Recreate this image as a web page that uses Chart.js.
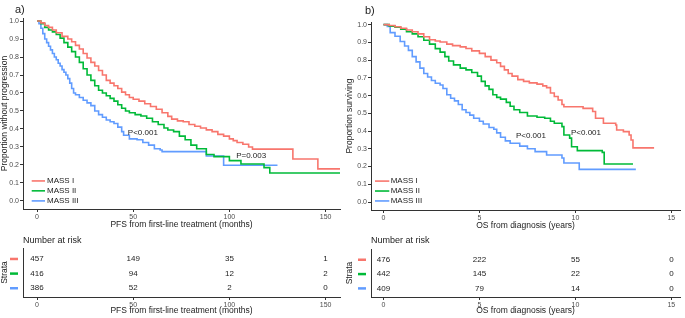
<!DOCTYPE html>
<html>
<head>
<meta charset="utf-8">
<script src="https://cdn.jsdelivr.net/npm/chart.js@4.4.1/dist/chart.umd.min.js"></script>
<style>
  html, body { margin: 0; padding: 0; background: #fff; }
  body { width: 685px; height: 318px; position: relative; overflow: hidden; }
  canvas { position: absolute; }
</style>
</head>
<body>
<canvas id="kmA" width="345" height="232" style="left:0;top:0;width:345px;height:232px"></canvas>
<canvas id="kmB" width="340" height="232" style="left:345px;top:0;width:340px;height:232px"></canvas>
<canvas id="riskA" width="345" height="86" style="left:0;top:232px;width:345px;height:86px"></canvas>
<canvas id="riskB" width="340" height="86" style="left:345px;top:232px;width:340px;height:86px"></canvas>
<script>
// ---------------- DATA ----------------
const groupNames = ['MASS I', 'MASS II', 'MASS III'];
const groupColors = ['#F8766D', '#00BA38', '#619CFF'];

// Panel a) PFS from first-line treatment (months): [time, survival]
const pfsMassI = [[0,1],[2,0.99],[4,0.975],[6,0.965],[8,0.95],[10,0.935],[13,0.915],[16,0.9],[18,0.885],[20,0.865],[22,0.845],[24,0.82],[26,0.795],[28,0.77],[30,0.75],[32,0.725],[34,0.7],[36,0.67],[38,0.655],[40,0.64],[42,0.625],[44,0.605],[46,0.59],[48,0.575],[50,0.565],[53,0.555],[56,0.54],[59,0.525],[62,0.51],[65,0.49],[68,0.47],[70,0.455],[73,0.445],[76,0.44],[79,0.425],[82,0.415],[85,0.405],[88,0.395],[91,0.385],[94,0.37],[97,0.36],[100,0.345],[102,0.335],[104,0.325],[107,0.315],[110,0.3],[112,0.288],[133,0.233],[146,0.178],[158,0.178]];
const pfsMassII = [[0,1],[2,0.985],[4,0.965],[6,0.95],[8,0.94],[10,0.925],[12,0.905],[14,0.88],[16,0.855],[18,0.83],[20,0.8],[22,0.77],[24,0.735],[26,0.7],[28,0.67],[30,0.64],[32,0.615],[34,0.6],[36,0.585],[38,0.57],[40,0.555],[42,0.535],[44,0.515],[46,0.5],[48,0.49],[51,0.48],[54,0.472],[57,0.46],[60,0.44],[63,0.425],[66,0.405],[68,0.394],[71,0.385],[74,0.36],[77,0.34],[80,0.31],[83,0.29],[88,0.258],[92,0.246],[100,0.224],[106,0.205],[118,0.185],[121,0.155],[158,0.155]];
const pfsMassIII = [[0,1],[1,0.985],[2,0.96],[3,0.93],[4,0.9],[5,0.88],[6,0.86],[7,0.84],[8,0.82],[9,0.8],[10,0.785],[11,0.765],[12,0.75],[13,0.73],[14,0.715],[15,0.7],[16,0.68],[17,0.655],[18,0.625],[19,0.6],[20,0.59],[22,0.575],[24,0.56],[26,0.545],[28,0.53],[30,0.5],[32,0.48],[34,0.465],[36,0.45],[38,0.44],[40,0.43],[42,0.41],[44,0.385],[45,0.365],[48,0.345],[52,0.34],[55,0.325],[58,0.31],[61,0.29],[64,0.283],[65,0.274],[88,0.25],[97,0.198],[125,0.198]];

// Panel b) OS from diagnosis (years): [time, survival]
const osMassI = [[0,1],[0.3,0.995],[0.6,0.988],[0.9,0.98],[1.2,0.97],[1.5,0.96],[1.8,0.948],[2.1,0.932],[2.4,0.915],[2.7,0.908],[2.95,0.902],[3.3,0.89],[3.6,0.882],[4,0.875],[4.3,0.866],[4.6,0.852],[5.0,0.838],[5.3,0.82],[5.6,0.8],[5.9,0.785],[6.1,0.765],[6.3,0.745],[6.5,0.725],[6.7,0.71],[7.0,0.69],[7.3,0.68],[7.6,0.672],[8.0,0.665],[8.3,0.655],[8.5,0.645],[8.7,0.615],[8.9,0.595],[9.1,0.575],[9.3,0.55],[9.4,0.537],[10.4,0.528],[10.9,0.51],[11.05,0.472],[11.46,0.444],[12.1,0.434],[12.15,0.406],[12.5,0.397],[12.8,0.378],[12.9,0.35],[13.0,0.305],[14.1,0.305]];
const osMassII = [[0,1],[0.3,0.992],[0.6,0.985],[0.9,0.975],[1.2,0.96],[1.5,0.948],[1.8,0.932],[2.1,0.912],[2.4,0.89],[2.7,0.865],[2.95,0.845],[3.2,0.82],[3.4,0.795],[3.65,0.773],[4.0,0.755],[4.3,0.745],[4.6,0.73],[4.9,0.71],[5.1,0.68],[5.3,0.655],[5.5,0.635],[5.7,0.605],[5.9,0.59],[6.1,0.58],[6.4,0.562],[6.6,0.54],[6.8,0.52],[7.1,0.505],[7.5,0.485],[8.0,0.478],[8.4,0.472],[8.7,0.455],[8.9,0.444],[9.3,0.425],[9.4,0.378],[9.7,0.36],[9.8,0.312],[10.1,0.29],[11.4,0.28],[11.5,0.214],[13,0.214]];
const osMassIII = [[0,1],[0.2,0.99],[0.35,0.955],[0.6,0.935],[0.87,0.905],[1.1,0.88],[1.3,0.855],[1.5,0.82],[1.7,0.79],[1.9,0.755],[2.1,0.725],[2.3,0.705],[2.5,0.685],[2.7,0.67],[2.95,0.66],[3.1,0.64],[3.3,0.605],[3.5,0.585],[3.7,0.57],[3.9,0.55],[4.1,0.52],[4.3,0.505],[4.5,0.49],[4.7,0.472],[5.0,0.455],[5.2,0.44],[5.5,0.42],[5.75,0.41],[5.9,0.39],[6.1,0.365],[6.35,0.345],[6.6,0.331],[7.1,0.315],[7.5,0.3],[7.9,0.284],[8.5,0.265],[9.3,0.248],[9.4,0.22],[10.2,0.184],[13.15,0.184]];

// Number at risk tables
const pfsRiskTimes = [0, 50, 100, 150];
const pfsRiskI = [457, 149, 35, 1];
const pfsRiskII = [416, 94, 12, 2];
const pfsRiskIII = [386, 52, 2, 0];
const osRiskTimes = [0, 5, 10, 15];
const osRiskI = [476, 222, 55, 0];
const osRiskII = [442, 145, 22, 0];
const osRiskIII = [409, 79, 14, 0];

// Tick labels
const yTicks = [0, 0.1, 0.2, 0.3, 0.4, 0.5, 0.6, 0.7, 0.8, 0.9, 1.0];
const pfsXTicks = [0, 50, 100, 150];
const osXTicks = [0, 5, 10, 15];

// Annotations
const pfsPValues = [{text: 'P<0.001', x: 47.2, y: 0.38}, {text: 'P=0.003', x: 103.5, y: 0.252}];
const osPValues = [{text: 'P<0.001', x: 6.9, y: 0.372}, {text: 'P<0.001', x: 9.77, y: 0.393}];

// ---------------- STYLE / HELPERS ----------------
const FONT = '"Liberation Sans", Arial, sans-serif';
const axisColor = '#333333';
const tickColor = '#4d4d4d';
const textColor = '#222222';

const annotPlugin = {
  id: 'annot',
  afterDatasetsDraw(chart, args, opts) {
    const ctx = chart.ctx;
    const xs = chart.scales.x, ys = chart.scales.y, ca = chart.chartArea;
    ctx.save();
    if (opts.panel) {
      ctx.font = '11px ' + FONT;
      ctx.fillStyle = textColor;
      ctx.textAlign = 'left';
      ctx.textBaseline = 'middle';
      ctx.fillText(opts.panel.text, opts.panel.x, opts.panel.y);
    }
    (opts.pvalues || []).forEach(p => {
      ctx.font = '8px ' + FONT;
      ctx.fillStyle = textColor;
      ctx.textAlign = 'left';
      ctx.textBaseline = 'middle';
      ctx.fillText(p.text, xs.getPixelForValue(p.x), ys.getPixelForValue(p.y));
    });
    if (opts.legend) {
      const L = opts.legend;
      chart.data.datasets.forEach((ds, i) => {
        const y = ys.getPixelForValue(L.rows[i]);
        ctx.strokeStyle = ds.borderColor;
        ctx.lineWidth = 1.6;
        ctx.beginPath();
        ctx.moveTo(ca.left + L.x0, y);
        ctx.lineTo(ca.left + L.x1, y);
        ctx.stroke();
        ctx.font = '8px ' + FONT;
        ctx.fillStyle = textColor;
        ctx.textAlign = 'left';
        ctx.textBaseline = 'middle';
        ctx.fillText(ds.label, ca.left + L.tx, y);
      });
    }
    if (opts.risk) {
      ctx.font = '9px ' + FONT;
      ctx.fillStyle = textColor;
      ctx.textAlign = 'left';
      ctx.textBaseline = 'middle';
      ctx.fillText('Number at risk', ca.left, opts.risk.headerY);
      chart.data.datasets.forEach((ds, i) => {
        const meta = chart.getDatasetMeta(i);
        ctx.font = '8px ' + FONT;
        ctx.fillStyle = textColor;
        ctx.textAlign = 'center';
        ctx.textBaseline = 'middle';
        meta.data.forEach((el, j) => {
          ctx.fillText(String(ds.data[j].n), el.x, el.y);
        });
        const y = ys.getPixelForValue(ds.data[0].y);
        ctx.strokeStyle = ds.keyColor;
        ctx.lineWidth = 2.5;
        ctx.beginPath();
        ctx.moveTo(ca.left - 13, y);
        ctx.lineTo(ca.left - 5, y);
        ctx.stroke();
      });
    }
    ctx.restore();
  }
};

function xScale(min, max, ticks, title, h) {
  return {
    type: 'linear', min, max,
    afterBuildTicks: s => { s.ticks = ticks.map(v => ({value: v})); },
    afterFit: s => { s.height = h; },
    grid: {drawOnChartArea: false, drawTicks: true, tickLength: 3, color: axisColor},
    border: {display: true, color: axisColor, width: 1},
    ticks: {font: {size: 7, family: FONT}, color: tickColor, padding: 1, maxRotation: 0, autoSkip: false,
            callback: v => String(v)},
    title: {display: true, text: title, font: {size: 8.5, family: FONT}, color: textColor, padding: 0}
  };
}

function kmChart(id, series, xMin, xMax, xTicks, xTitle, yTitle, yMax, yW, pad, legend, pvals, panel) {
  new Chart(document.getElementById(id), {
    type: 'scatter',
    data: {
      datasets: series.map((s, i) => ({
        label: groupNames[i],
        data: s.map(p => ({x: p[0], y: p[1]})),
        showLine: true, stepped: 'before',
        borderColor: groupColors[i], backgroundColor: groupColors[i],
        borderWidth: 1.6, pointRadius: 0, pointHoverRadius: 0, fill: false
      }))
    },
    options: {
      responsive: false, animation: false, devicePixelRatio: 1,
      layout: {padding: pad},
      plugins: {legend: {display: false}, tooltip: {enabled: false},
                annot: {legend, pvalues: pvals, panel}},
      scales: {
        x: xScale(xMin, xMax, xTicks, xTitle, 21),
        y: {
          type: 'linear', min: -0.045, max: yMax,
          afterBuildTicks: s => { s.ticks = yTicks.map(v => ({value: v})); },
          afterFit: s => { s.width = yW; },
          grid: {drawOnChartArea: false, drawTicks: true, tickLength: 3, color: axisColor},
          border: {display: true, color: axisColor, width: 1},
          ticks: {font: {size: 7, family: FONT}, color: tickColor, padding: 1, autoSkip: false,
                  callback: v => Number(v).toFixed(1)},
          title: {display: true, text: yTitle, font: {size: 8.5, family: FONT}, color: textColor, padding: 0}
        }
      }
    },
    plugins: [annotPlugin]
  });
}

function riskChart(id, times, rows, xMin, xMax, xTicks, xTitle, yW, pad, headerY) {
  new Chart(document.getElementById(id), {
    type: 'scatter',
    data: {
      datasets: rows.map((r, i) => ({
        label: groupNames[i],
        keyColor: groupColors[i],
        data: r.map((n, j) => ({x: times[j], y: 3 - i, n})),
        pointRadius: 0, pointHoverRadius: 0, showLine: false
      }))
    },
    options: {
      responsive: false, animation: false, devicePixelRatio: 1,
      layout: {padding: pad},
      plugins: {legend: {display: false}, tooltip: {enabled: false}, annot: {risk: {headerY}}},
      scales: {
        x: xScale(xMin, xMax, xTicks, xTitle, 19),
        y: {
          type: 'linear', min: 0.4, max: 3.75,
          afterBuildTicks: s => { s.ticks = [1, 2, 3].map(v => ({value: v})); },
          afterFit: s => { s.width = yW; },
          grid: {display: false, drawTicks: false},
          border: {display: true, color: axisColor, width: 1},
          ticks: {display: false},
          title: {display: true, text: 'Strata', font: {size: 8.5, family: FONT}, color: textColor, padding: 0}
        }
      }
    },
    plugins: [annotPlugin]
  });
}

kmChart('kmA', [pfsMassI, pfsMassII, pfsMassIII], -7.3, 157.5, pfsXTicks,
  'PFS from first-line treatment (months)', 'Proportion without progression', 1.017, 23,
  {left: 0, right: 5, top: 18, bottom: 2},
  {x0: 8.7, x1: 22, tx: 24, rows: [0.111, 0.056, 0.0]}, pfsPValues, {text: 'a)', x: 15, y: 10});

kmChart('kmB', [osMassI, osMassII, osMassIII], -0.65, 15.45, osXTicks,
  'OS from diagnosis (years)', 'Proportion surviving', 1.015, 26,
  {left: 0, right: 5, top: 22, bottom: 1},
  {x0: 4, x1: 18.3, tx: 19.7, rows: [0.118, 0.062, 0.006]}, osPValues, {text: 'b)', x: 20, y: 11});

riskChart('riskA', pfsRiskTimes, [pfsRiskI, pfsRiskII, pfsRiskIII], -7.3, 157.5, pfsXTicks,
  'PFS from first-line treatment (months)', 23, {left: 0, right: 5, top: 16, bottom: 2}, 9);

riskChart('riskB', osRiskTimes, [osRiskI, osRiskII, osRiskIII], -0.65, 15.45, osXTicks,
  'OS from diagnosis (years)', 26, {left: 0, right: 5, top: 17, bottom: 2}, 9);
</script>
</body>
</html>
